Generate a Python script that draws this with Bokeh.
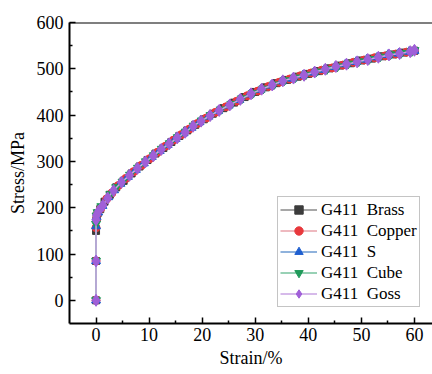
from bokeh.plotting import figure
from bokeh.models import Legend, LegendItem, FixedTicker, Range1d, Span
from bokeh.embed import file_html
from bokeh.resources import INLINE

# ---- data ----
brass_x = [0, 0, 0, 0.1, 0.3, 0.8, 1.6, 2.6, 3.8, 5.2, 6.7, 8.2, 9.7, 11.2, 12.7, 14.2, 15.7, 17.2, 18.7, 20.3,
           22.0, 24.0, 26.0, 28.0, 30.0, 32.0, 34.0, 36.0, 38.0, 40.0, 42.0, 44.0, 46.0, 48.0, 50.0, 52.0, 54.0, 56.0, 58.0, 60.0]
brass_y = [0, 85, 150, 178, 188, 197, 213, 228, 244, 258, 274, 289, 303, 317, 329, 342, 355, 367, 379, 391,
           403, 415, 427, 439, 450, 460, 469, 476, 483, 489, 495, 501, 507, 512, 518, 522, 527, 531, 535, 539]

copper_x = [0, 0, 0, 0.1, 0.35, 0.9, 2.0, 3.0, 4.2, 5.6, 7.1, 8.6, 10.1, 11.6, 13.1, 14.6, 16.1, 17.6, 19.1, 20.8,
            22.5, 24.5, 26.5, 28.5, 30.5, 32.5, 34.5, 36.5, 38.5, 40.5, 42.5, 44.5, 46.5, 48.5, 50.5, 52.5, 54.5, 56.5, 58.5, 60.0]
copper_y = [0, 85, 157, 176, 189, 199, 219, 232, 248, 263, 278, 292, 306, 320, 333, 346, 358, 370, 382, 394,
            406, 418, 430, 442, 452, 462, 471, 478, 485, 491, 497, 502, 508, 514, 519, 524, 528, 532, 536, 539]

s_x = [0, 0, 0, 0.1, 0.4, 1.2, 2.3, 3.4, 4.6, 6.0, 7.5, 9.0, 10.5, 12.0, 13.5, 15.0, 16.5, 18.0, 19.5, 21.2,
       23.0, 25.0, 27.0, 29.0, 31.0, 33.0, 35.0, 37.0, 39.0, 41.0, 43.0, 45.0, 47.0, 49.0, 51.0, 53.0, 55.0, 57.0, 59.0, 60.0]
s_y = [0, 85, 160, 180, 190, 204, 223, 238, 252, 267, 282, 296, 310, 323, 336, 349, 361, 373, 385, 397,
       409, 421, 433, 445, 455, 464, 473, 479, 486, 492, 498, 504, 510, 515, 520, 525, 530, 533, 537, 539]

cube_x = [0, 0, 0, 0.1, 0.3, 1.0, 2.7, 3.8, 5.0, 6.4, 7.9, 9.4, 10.9, 12.4, 13.9, 15.4, 16.9, 18.4, 19.9, 21.6,
          23.5, 25.5, 27.5, 29.5, 31.5, 33.5, 35.5, 37.5, 39.5, 41.5, 43.5, 45.5, 47.5, 49.5, 51.5, 53.5, 55.5, 57.5, 59.5, 60.0]
cube_y = [0, 85, 165, 183, 190, 203, 229, 244, 256, 271, 286, 300, 313, 327, 339, 352, 364, 377, 388, 400,
          412, 424, 436, 447, 457, 466, 475, 481, 487, 494, 499, 505, 511, 516, 521, 526, 531, 534, 538, 540]

goss_x = [0, 0, 0, 0.1, 0.5, 1.3, 2.2, 3.3, 4.8, 6.3, 7.8, 9.3, 10.8, 12.3, 13.8, 15.3, 16.8, 18.3, 19.8, 21.5,
          23.2, 25.2, 27.2, 29.2, 31.2, 33.2, 35.2, 37.2, 39.2, 41.2, 43.2, 45.2, 47.2, 49.2, 51.2, 53.2, 55.2, 57.2, 59.2, 60.0]
goss_y = [0, 85, 174, 184, 193, 205, 221, 237, 255, 270, 285, 299, 312, 326, 338, 351, 363, 376, 387, 399,
          410, 422, 434, 446, 456, 465, 474, 480, 486, 493, 499, 505, 510, 515, 520, 525, 530, 533, 537, 540]

labels = ["G411  Brass", "G411  Copper", "G411  S", "G411  Cube", "G411  Goss"]
x_ticks = [0, 10, 20, 30, 40, 50, 60]
y_ticks = [0, 100, 200, 300, 400, 500, 600]

FONT = "Liberation Serif, serif"

p = figure(width=432, height=374, output_backend="svg", toolbar_location=None,
           x_range=Range1d(-5, 63.4), y_range=Range1d(-50, 600),
           min_border_left=69, min_border_right=0, min_border_top=22, min_border_bottom=51)
p.background_fill_color = "white"
p.border_fill_color = "white"
p.outline_line_color = None
p.grid.visible = False

series = [
    (brass_x, brass_y, "square", 7, "#3c3c3c", "#8a8a8a"),
    (copper_x, copper_y, "circle", 8, "#e8383c", "#e8a2aa"),
    (s_x, s_y, "triangle", 9, "#1f5fd0", "#6a98d0"),
    (cube_x, cube_y, "inverted_triangle", 9, "#1f9a5a", "#76c29c"),
    (goss_x, goss_y, "diamond", 12, "#a05fd8", "#c9a3e3"),
]

items = []
for (xs, ys, mk, sz, mc, lc), lab in zip(series, labels):
    l = p.line(xs, ys, line_color=lc, line_width=1.5)
    s = p.scatter(xs, ys, marker=mk, size=sz, fill_color=mc, line_color=mc)
    items.append(LegendItem(label=lab, renderers=[l, s]))

for ax in (p.xaxis[0], p.yaxis[0]):
    ax.axis_line_width = 2
    ax.axis_line_color = "black"
    ax.major_tick_in = 6
    ax.major_tick_out = 0
    ax.minor_tick_in = 3
    ax.minor_tick_out = 0
    ax.major_tick_line_width = 1.5
    ax.minor_tick_line_width = 1.5
    ax.major_label_text_font = FONT
    ax.major_label_text_font_size = "18px"
    ax.major_label_text_color = "black"
    ax.axis_label_text_font = FONT
    ax.axis_label_text_font_size = "18px"
    ax.axis_label_text_font_style = "normal"
    ax.axis_label_text_color = "black"

p.xaxis.ticker = FixedTicker(ticks=x_ticks, minor_ticks=[5, 15, 25, 35, 45, 55])
p.yaxis.ticker = FixedTicker(ticks=y_ticks, minor_ticks=[50, 150, 250, 350, 450, 550])
p.xaxis.axis_label = "Strain/%"
p.yaxis.axis_label = "Stress/MPa"
p.xaxis.major_label_standoff = 4
p.xaxis.axis_label_standoff = 4
p.yaxis.major_label_standoff = 6
p.yaxis.axis_label_standoff = 6

p.add_layout(Span(location=600, dimension="width", line_color="black", line_width=2))

legend = Legend(items=items, location=(208, 16), orientation="vertical")
legend.label_text_font = FONT
legend.label_text_font_size = "17px"
legend.label_text_color = "black"
legend.glyph_width = 37
legend.glyph_height = 21
legend.label_height = 21
legend.label_standoff = 4
legend.spacing = 0
legend.padding = 2
legend.margin = 0
legend.border_line_color = "#8a8a8a"
legend.border_line_width = 1
legend.background_fill_color = "white"
legend.background_fill_alpha = 1
p.add_layout(legend, "center")

open("out.html", "w").write(file_html(p, INLINE))
